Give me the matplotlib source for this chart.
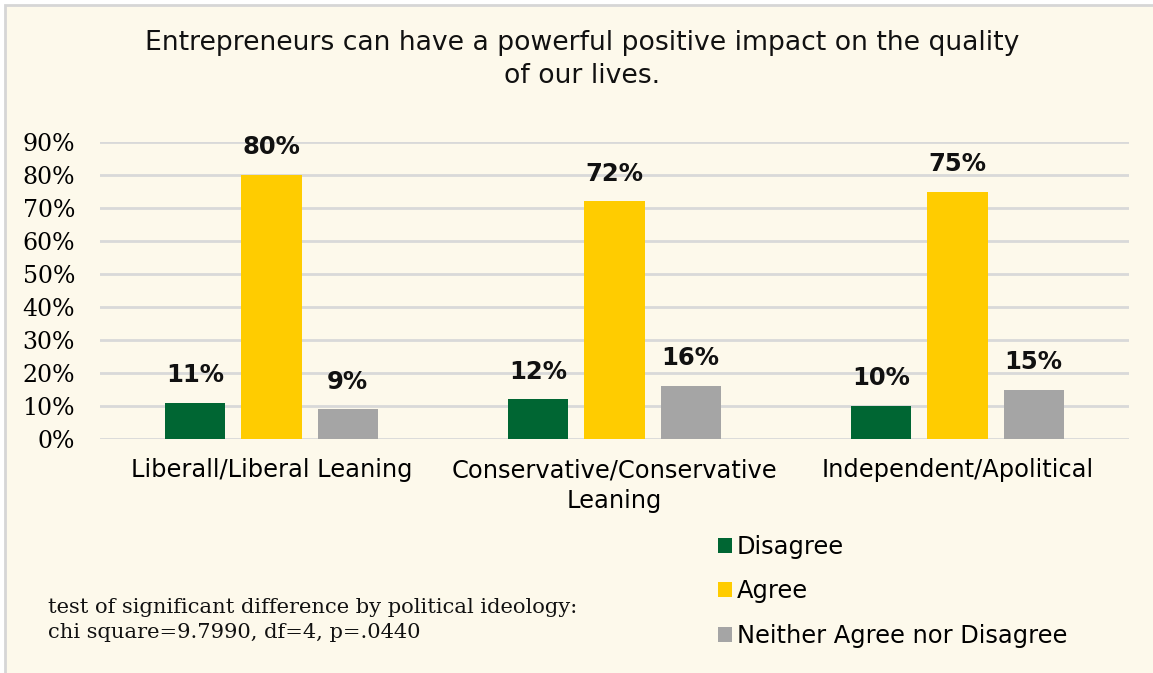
import matplotlib
matplotlib.use("Agg")
import matplotlib.pyplot as plt
from matplotlib.patches import Rectangle, Patch
from matplotlib.ticker import PercentFormatter
import numpy as np

# Survey responses by political ideology (share of respondents)
categories = ["Liberall/Liberal Leaning", "Conservative/Conservative\nLeaning", "Independent/Apolitical"]
series_names = ["Disagree", "Agree", "Neither Agree nor Disagree"]
disagree = [0.11, 0.12, 0.10]
agree = [0.80, 0.72, 0.75]
neither = [0.09, 0.16, 0.15]
yticks = [0.0, 0.1, 0.2, 0.3, 0.4, 0.5, 0.6, 0.7, 0.8, 0.9]

title = "Entrepreneurs can have a powerful positive impact on the quality\nof our lives."
footnote = "test of significant difference by political ideology:\nchi square=9.7990, df=4, p=.0440"

colors = ["#006633", "#FFCC00", "#A5A5A5"]
bg = "#FDF9EB"
grid_c = "#D9D9D9"

W, H = 1153, 673
fig = plt.figure(figsize=(W / 100, H / 100), dpi=100, facecolor="white")

# cream panel with a thin grey frame
fig.patches.append(Rectangle((5 / W, -0.1), 1.2, 1 - 5 / H + 0.1, transform=fig.transFigure,
                             facecolor=bg, edgecolor="#D6D6D6", linewidth=2, zorder=-5))

ax = fig.add_axes([100 / W, 1 - 439 / H, (1129 - 100) / W, (439 - 142) / H])
ax.patch.set_visible(False)

x = np.arange(len(categories))
width = 0.175
step = 0.222
sans = "DejaVu Sans"
for i, (vals, c) in enumerate(zip([disagree, agree, neither], colors)):
    bars = ax.bar(x + (i - 1) * step, vals, width, color=c, zorder=3, label=series_names[i])
    for b, v in zip(bars, vals):
        ax.annotate(f"{v * 100:.0f}%", (b.get_x() + b.get_width() / 2, v),
                    xytext=(0, 20), textcoords="offset points", ha="center", va="center",
                    fontsize=17.5, family=sans, fontweight="semibold", color="#111111")

ax.set_xlim(-0.5, 2.5)
ax.set_ylim(0, 0.9)
ax.set_yticks(yticks)
ax.yaxis.set_major_formatter(PercentFormatter(1.0, decimals=0))
ax.grid(axis="y", color=grid_c, linewidth=2, zorder=0)
ax.set_axisbelow(True)
for s in ax.spines.values():
    s.set_visible(False)
ax.tick_params(axis="y", length=0, pad=18, labelsize=17)
for lab in ax.get_yticklabels():
    lab.set_family("DejaVu Serif")
ax.set_xticks(x)
ax.set_xticklabels(categories, fontsize=17.4, family=sans, linespacing=1.32)
ax.tick_params(axis="x", length=0, pad=14)

fig.text(582 / W, 1 - 59.5 / H, title, ha="center", va="center", fontsize=19.2, family=sans,
         linespacing=1.38, color="#111111")

fig.text(48 / W, 1 - 620 / H, footnote, ha="left", va="center", fontsize=15.1,
         family="DejaVu Serif", linespacing=1.45, color="#111111")

handles = [Patch(facecolor=c, edgecolor="none") for c in colors]
fig.legend(handles, series_names, loc="upper left", bbox_to_anchor=(696 / W, 1 - 513 / H),
           frameon=False, prop={"family": sans, "size": 17.4},
           handlelength=0.6, handleheight=0.6, handletextpad=0.2, labelspacing=0.85)

fig.savefig("out.png", dpi=100, facecolor="white")
